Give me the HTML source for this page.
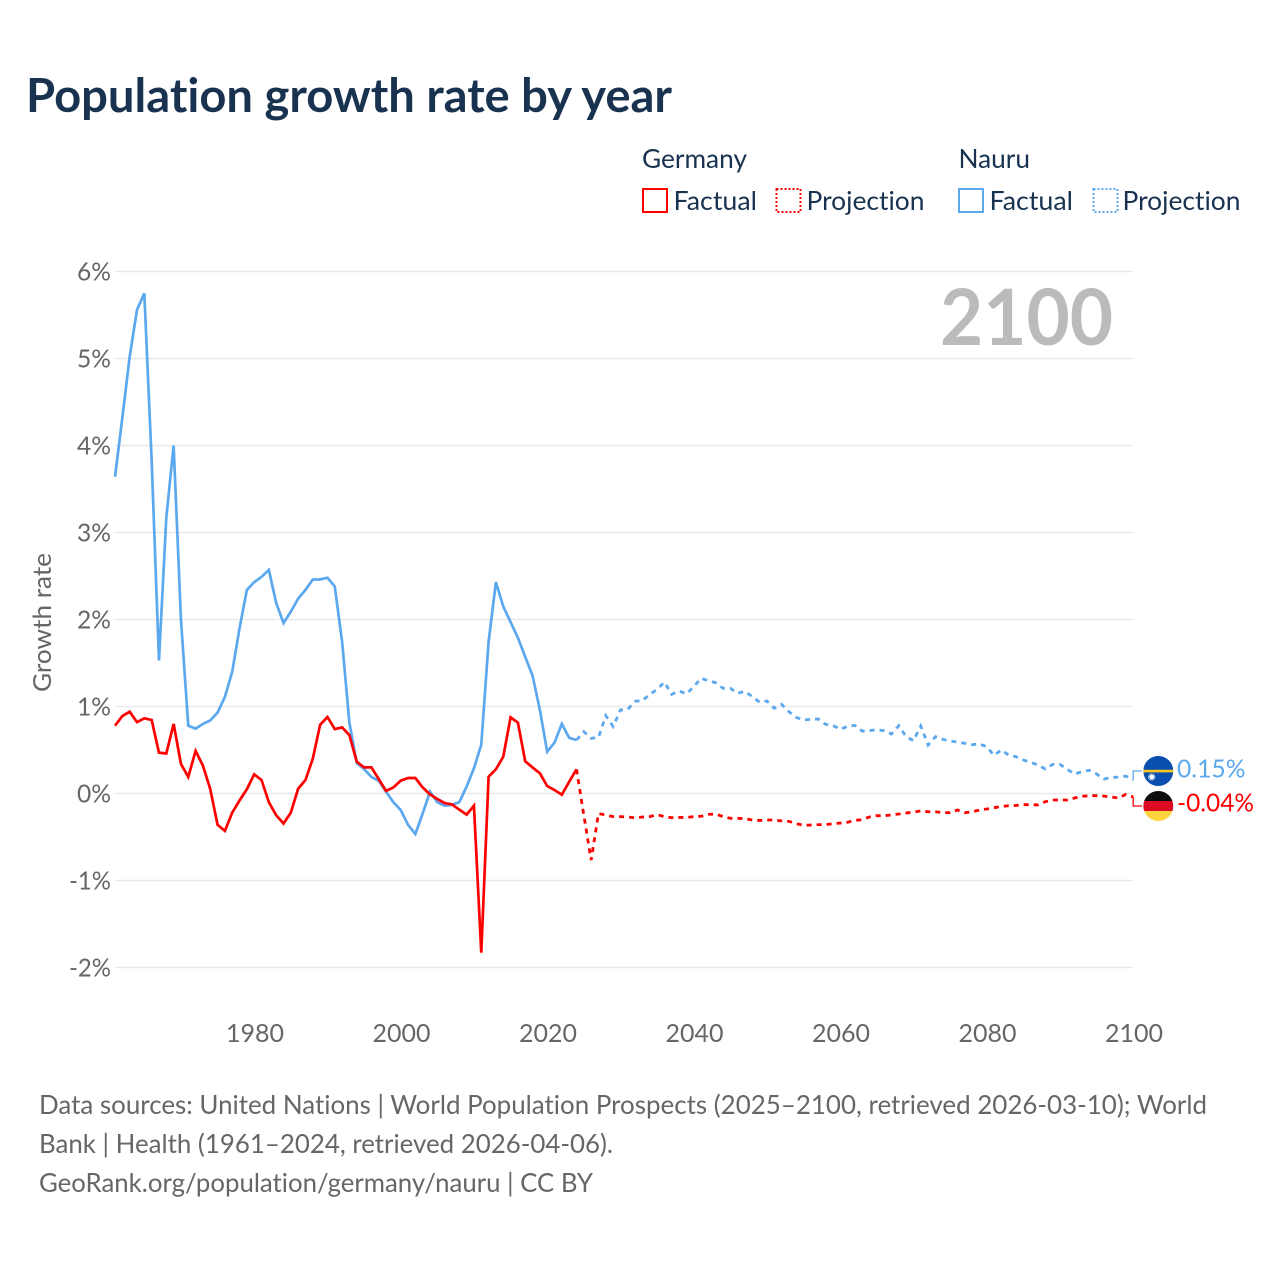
<!DOCTYPE html>
<html lang="en">
<head>
<meta charset="utf-8">
<title>Population growth rate by year</title>
<style>
html,body{margin:0;padding:0;background:#fff;}
svg{display:block;}
text{font-family:"Lato","Carlito","Liberation Sans",sans-serif;font-variant-ligatures:none;}
</style>
</head>
<body>
<svg id="chart" xmlns="http://www.w3.org/2000/svg" width="1280" height="1280" viewBox="0 0 1280 1280">
  <defs>
    <clipPath id="flag-clip-nauru"><circle id="clip-n" cx="1158.3" cy="771" r="15"/></clipPath>
    <clipPath id="flag-clip-germany"><circle id="clip-g" cx="1158.3" cy="806" r="15"/></clipPath>
  </defs>
  <rect width="1280" height="1280" fill="#fff"/>
  <text x="26" y="112" font-size="47" font-weight="700" fill="#18324f" textLength="646" lengthAdjust="spacingAndGlyphs">Population growth rate by year</text>

  <g font-size="26" fill="#18324f">
    <text x="642" y="168" textLength="105" lengthAdjust="spacingAndGlyphs">Germany</text>
    <text x="958.5" y="168" textLength="71.5" lengthAdjust="spacingAndGlyphs">Nauru</text>
    <rect x="643" y="189" width="24" height="23" fill="none" stroke="#ff0000" stroke-width="2"/>
    <text x="673.5" y="210" textLength="83.5" lengthAdjust="spacingAndGlyphs">Factual</text>
    <rect x="776.5" y="189" width="24" height="23" fill="none" stroke="#ff0000" stroke-width="2" stroke-dasharray="2 2"/>
    <text x="806.5" y="210" textLength="118" lengthAdjust="spacingAndGlyphs">Projection</text>
    <rect x="959" y="189" width="24" height="23" fill="none" stroke="#5ca8ee" stroke-width="2"/>
    <text x="989.5" y="210" textLength="83.5" lengthAdjust="spacingAndGlyphs">Factual</text>
    <rect x="1093.5" y="189" width="24" height="23" fill="none" stroke="#5ca8ee" stroke-width="2" stroke-dasharray="2 2"/>
    <text x="1122.5" y="210" textLength="118" lengthAdjust="spacingAndGlyphs">Projection</text>
  </g>

  <g id="grid"></g>
  <g id="y-ticks"></g>
  <g id="x-ticks"></g>

  <text transform="translate(51,692) rotate(-90)" font-size="25" fill="#666666" textLength="139" lengthAdjust="spacingAndGlyphs">Growth rate</text>
  <text x="940" y="345" font-size="78" font-weight="700" fill="#bbbbbb" textLength="173" lengthAdjust="spacingAndGlyphs">2100</text>

  <g id="series"></g>
  <g id="end-labels"></g>

  <g font-size="26" fill="#666666">
    <text x="39" y="1114" textLength="1168" lengthAdjust="spacingAndGlyphs">Data sources: United Nations | World Population Prospects (2025–2100, retrieved 2026-03-10); World</text>
    <text x="39" y="1153" textLength="574" lengthAdjust="spacingAndGlyphs">Bank | Health (1961–2024, retrieved 2026-04-06).</text>
    <text x="39" y="1192" textLength="554" lengthAdjust="spacingAndGlyphs">GeoRank.org/population/germany/nauru | CC BY</text>
  </g>
</svg>
<script>
var yTicks = [6, 5, 4, 3, 2, 1, 0, -1, -2];
var yTickLabels = ["6%", "5%", "4%", "3%", "2%", "1%", "0%", "-1%", "-2%"];
var xTicks = [1980, 2000, 2020, 2040, 2060, 2080, 2100];
var xTickLabels = ["1980", "2000", "2020", "2040", "2060", "2080", "2100"];
var factualStartYear = 1961;
var projectionStartYear = 2024;
var germanyFactual = [0.78,0.89,0.94,0.82,0.865,0.845,0.47,0.46,0.80,0.34,0.19,0.49,0.32,0.05,-0.36,-0.43,-0.22,-0.08,0.05,0.22,0.155,-0.10,-0.25,-0.345,-0.22,0.055,0.155,0.40,0.79,0.88,0.74,0.76,0.67,0.365,0.30,0.30,0.165,0.03,0.07,0.147,0.178,0.178,0.07,-0.01,-0.063,-0.11,-0.125,-0.186,-0.243,-0.14,-1.83,0.193,0.278,0.423,0.875,0.815,0.37,0.30,0.232,0.086,0.04,-0.014,0.135,0.278];
var germanyProjection = [0.278,-0.25,-0.765,-0.23,-0.247,-0.266,-0.266,-0.27,-0.28,-0.27,-0.266,-0.243,-0.266,-0.278,-0.275,-0.275,-0.266,-0.262,-0.24,-0.235,-0.266,-0.285,-0.285,-0.29,-0.305,-0.31,-0.305,-0.305,-0.315,-0.32,-0.347,-0.366,-0.362,-0.358,-0.358,-0.347,-0.34,-0.33,-0.31,-0.30,-0.27,-0.255,-0.255,-0.247,-0.236,-0.224,-0.213,-0.20,-0.21,-0.21,-0.22,-0.22,-0.19,-0.22,-0.21,-0.19,-0.178,-0.163,-0.15,-0.14,-0.138,-0.127,-0.13,-0.13,-0.094,-0.075,-0.075,-0.075,-0.052,-0.033,-0.025,-0.025,-0.03,-0.04,-0.052,-0.01,-0.04];
var nauruFactual = [3.64,4.32,5.02,5.56,5.75,3.83,1.53,3.17,4.0,2.0,0.78,0.745,0.80,0.84,0.93,1.11,1.40,1.90,2.34,2.43,2.49,2.57,2.19,1.96,2.09,2.24,2.34,2.46,2.46,2.48,2.38,1.745,0.81,0.35,0.28,0.19,0.145,0.02,-0.10,-0.19,-0.36,-0.465,-0.23,0.02,-0.10,-0.14,-0.13,-0.10,0.08,0.29,0.56,1.745,2.43,2.15,1.97,1.79,1.57,1.355,0.96,0.48,0.585,0.80,0.64,0.615];
var nauruProjection = [0.615,0.71,0.634,0.645,0.895,0.77,0.96,0.968,1.06,1.067,1.14,1.197,1.28,1.14,1.18,1.144,1.228,1.324,1.297,1.274,1.21,1.21,1.152,1.175,1.113,1.05,1.063,0.98,1.025,0.94,0.875,0.845,0.853,0.856,0.795,0.783,0.738,0.772,0.783,0.718,0.722,0.733,0.722,0.684,0.78,0.653,0.607,0.776,0.557,0.653,0.623,0.603,0.592,0.577,0.561,0.569,0.538,0.439,0.50,0.442,0.423,0.385,0.358,0.328,0.282,0.335,0.335,0.278,0.224,0.25,0.267,0.224,0.167,0.182,0.19,0.20,0.155];
var endLabelNauru = "0.15%";
var endLabelGermany = "-0.04%";

var NS = "http://www.w3.org/2000/svg";
function xScale(year) { return 254.2 + (year - 1980) * 7.325; }
function yScale(value) { return 793.5 - value * 87; }
function make(tag, parent, attrs) {
  var el = document.createElementNS(NS, tag);
  for (var k in attrs) { el.setAttribute(k, attrs[k]); }
  parent.appendChild(el);
  return el;
}
function pathFor(values, startYear) {
  var d = "";
  for (var i = 0; i < values.length; i++) {
    d += (i ? "L" : "M") + xScale(startYear + i).toFixed(2) + " " + yScale(values[i]).toFixed(2);
  }
  return d;
}

var gridG = document.getElementById("grid");
var yG = document.getElementById("y-ticks");
yTicks.forEach(function (t, i) {
  var line = make("line", gridG, {x1: 115, x2: 1133, y1: yScale(t), y2: yScale(t), stroke: "#e9e9e9", "stroke-width": 1.4});
  
  
  var label = make("text", yG, {x: 111, y: yScale(t) + 9, "text-anchor": "end", "font-size": 25, fill: "#666666", textLength: yTickLabels[i].length > 2 ? 42 : 34, lengthAdjust: "spacingAndGlyphs"});
  
  
  label.textContent = yTickLabels[i];
});

var xG = document.getElementById("x-ticks");
xTicks.forEach(function (t, i) {
  var label = make("text", xG, {x: xScale(t) + 0.8, y: 1042, "text-anchor": "middle", "font-size": 25, fill: "#666666", textLength: 58, lengthAdjust: "spacingAndGlyphs"});
  
  
  label.textContent = xTickLabels[i];
});

var seriesG = document.getElementById("series");
var nauruFactualLine = make("path", seriesG, {d: pathFor(nauruFactual, factualStartYear), fill: "none", stroke: "#5ca8ee", "stroke-width": 2.7, "stroke-linejoin": "miter"});


var nauruProjectionLine = make("path", seriesG, {d: pathFor(nauruProjection, projectionStartYear), fill: "none", stroke: "#5ca8ee", "stroke-width": 2.8, "stroke-dasharray": "5 5"});


var germanyFactualLine = make("path", seriesG, {d: pathFor(germanyFactual, factualStartYear), fill: "none", stroke: "#ff0000", "stroke-width": 2.7, "stroke-linejoin": "miter"});


var germanyProjectionLine = make("path", seriesG, {d: pathFor(germanyProjection, projectionStartYear), fill: "none", stroke: "#ff0000", "stroke-width": 2.8, "stroke-dasharray": "5 5"});



/* End labels: placed around the midpoint of the two series ends, avoiding overlap */
var endN = yScale(nauruProjection[nauruProjection.length - 1]);
var endG = yScale(germanyProjection[germanyProjection.length - 1]);
var mid = (endN + endG) / 2;
var flagN = mid - 17.5;
var flagG = mid + 17.5;
var flagX = 1158.3;
var endG_ = document.getElementById("end-labels");
var endX = xScale(2100);

var connN = make("path", endG_, {d: "M" + endX + " " + endN + "V" + flagN + "H1142", fill: "none", stroke: "#5ca8ee", "stroke-width": 1.3});


var connG = make("path", endG_, {d: "M" + endX + " " + endG + "V" + flagG + "H1142", fill: "none", stroke: "#ff0000", "stroke-width": 1.3});



document.getElementById("clip-n").setAttribute("cy", flagN);
document.getElementById("clip-g").setAttribute("cy", flagG);

var nauruFlag = make("g", endG_, {"clip-path": "url(#flag-clip-nauru)"});


make("rect", nauruFlag, {x: flagX - 15, y: flagN - 15, width: 30, height: 30, fill: "#0a4fad"});
make("rect", nauruFlag, {x: flagX - 15, y: flagN - 1.2, width: 30, height: 2.6, fill: "#ffc61e"});
make("circle", nauruFlag, {cx: flagX - 6.6, cy: flagN + 6, r: 2.4, fill: "#ffffff"});
make("circle", nauruFlag, {cx: flagX - 6.6, cy: flagN + 6, r: 3.2, fill: "none", stroke: "#ffffff", "stroke-width": 0.9, "stroke-dasharray": "1.2 0.8"});

var germanFlag = make("g", endG_, {"clip-path": "url(#flag-clip-germany)"});


make("rect", germanFlag, {x: flagX - 15, y: flagG - 15, width: 30, height: 10, fill: "#0d0d0d"});
make("rect", germanFlag, {x: flagX - 15, y: flagG - 5, width: 30, height: 10, fill: "#dd0b22"});
make("rect", germanFlag, {x: flagX - 15, y: flagG + 5, width: 30, height: 10, fill: "#ffd53f"});

var labelN = make("text", endG_, {x: 1177, y: flagN + 6.5, "font-size": 25, fill: "#5ca8ee", textLength: 68.5, lengthAdjust: "spacingAndGlyphs"});


labelN.textContent = endLabelNauru;
var labelG = make("text", endG_, {x: 1177, y: flagG + 5.5, "font-size": 25, fill: "#ff0000", textLength: 77, lengthAdjust: "spacingAndGlyphs"});


labelG.textContent = endLabelGermany;
</script>
</body>
</html>
